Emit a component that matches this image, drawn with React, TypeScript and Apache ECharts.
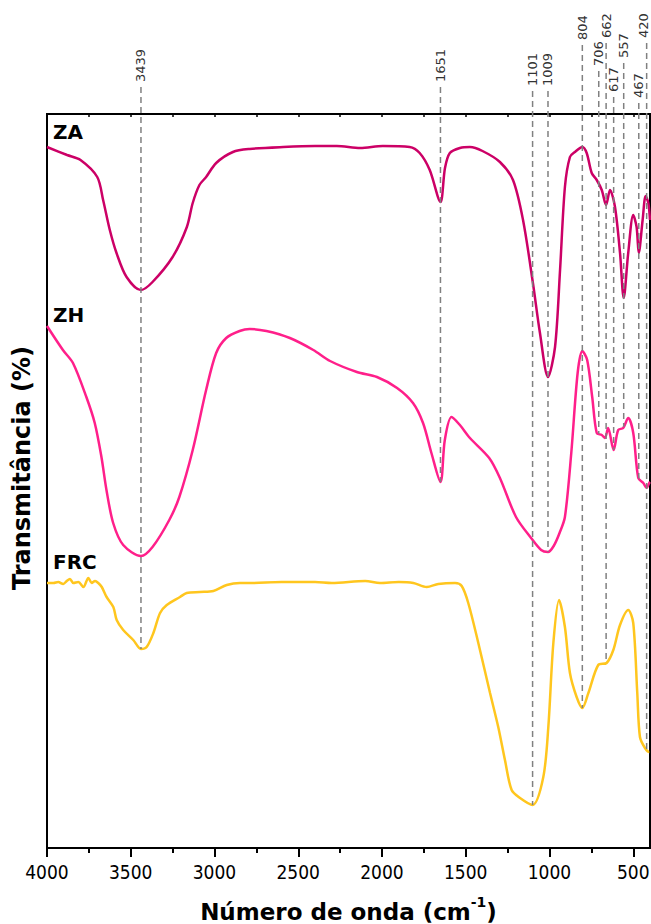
import React, { useEffect, useRef } from "react";
import * as echarts from "echarts";

// ---- Data (wavenumber cm-1, transmittance in arbitrary offset units) ----
const zaX = [4000, 3880, 3800, 3700, 3665, 3625, 3585, 3525, 3439, 3370, 3250, 3165, 3130, 3090, 3050, 2990, 2890, 2790, 2590, 2400, 2270, 2130, 1995, 1835, 1775, 1715, 1651, 1624, 1595, 1535, 1475, 1400, 1296, 1218, 1158, 1099, 1057, 1009, 967, 937, 908, 878, 848, 804, 778, 748, 718, 688, 662, 639, 609, 579, 557, 530, 500, 480, 467, 444, 426, 410, 400];
const zaY = [701, 693, 688, 671, 648, 618, 595, 571, 558, 566, 591, 621, 645, 663, 671, 685, 696, 699, 701, 702, 702, 700, 702, 701, 695, 678, 646, 680, 695, 700, 701, 697, 686, 668, 628, 565, 515, 471, 501, 578, 661, 691, 696, 701, 695, 675, 668, 658, 643, 658, 641, 595, 550, 595, 633, 621, 595, 628, 652, 645, 628];

const zhX = [4000, 3905, 3845, 3765, 3715, 3675, 3645, 3605, 3545, 3439, 3370, 3270, 3210, 3130, 3050, 2990, 2930, 2850, 2790, 2690, 2550, 2410, 2310, 2150, 2030, 1910, 1815, 1755, 1705, 1651, 1625, 1585, 1535, 1475, 1360, 1296, 1200, 1110, 1050, 1009, 975, 940, 908, 870, 832, 804, 775, 745, 718, 688, 669, 650, 617, 590, 560, 530, 500, 470, 440, 420, 405, 400];
const zhY = [522, 498, 485, 451, 425, 391, 358, 325, 303, 292, 301, 328, 351, 398, 458, 495, 510, 517, 519, 517, 510, 498, 487, 476, 471, 460, 445, 425, 395, 366, 408, 431, 423, 410, 390, 370, 331, 310, 298, 296, 302, 315, 331, 395, 475, 497, 488, 451, 415, 413, 410, 420, 398, 418, 420, 430, 415, 370, 365, 360, 365, 366];

const frcX = [4000, 3962, 3933, 3903, 3882, 3863, 3843, 3813, 3783, 3753, 3733, 3713, 3694, 3673, 3644, 3604, 3584, 3545, 3485, 3439, 3405, 3365, 3325, 3285, 3206, 3166, 3087, 3007, 2927, 2848, 2788, 2600, 2400, 2300, 2100, 2012, 1900, 1813, 1733, 1664, 1564, 1524, 1485, 1425, 1355, 1306, 1266, 1226, 1176, 1101, 1037, 1007, 977, 943, 908, 878, 838, 804, 768, 709, 659, 619, 579, 530, 500, 476, 460, 430, 404, 400];
const frcY = [265, 265, 266, 264, 267, 269, 265, 266, 261, 270, 265, 267, 265, 261, 251, 241, 228, 218, 208, 199, 201, 215, 235, 243, 251, 255, 256, 257, 263, 265, 265, 266, 266, 265, 267, 265, 266, 265, 261, 264, 265, 262, 245, 205, 155, 121, 88, 58, 50, 43, 71, 121, 205, 248, 221, 175, 151, 140, 155, 183, 185, 198, 223, 238, 225, 155, 111, 100, 96, 96];

const seriesNames = ["ZA", "ZH", "FRC"];

// Peak annotations and the spectrum each dashed line drops to
const peakX = [3439, 1651, 1101, 1009, 804, 706, 662, 617, 557, 467, 420];
const peakSeries = ["FRC", "ZH", "FRC", "ZH", "FRC", "ZH", "FRC", "ZH", "ZH", "ZH", "FRC"];

// Axis ticks
const majorTicks = [4000, 3500, 3000, 2500, 2000, 1500, 1000, 500];
const minorTicks = [3750, 3250, 2750, 2250, 1750, 1250, 750];
const topTicks = [3750, 3500, 3250, 3000, 2750, 2500, 2250, 2000, 1750, 1500, 1250, 1000, 750, 500];

// Layout (pixel) settings, not data
const labelBottomY = [82, 82, 86, 86, 40, 66, 38, 92, 58, 98, 38];
const labelDx = [0, 0, 0, 0, 0, 0, 0, 0, 0, 0, -3];
const seriesLabelY = [132, 315, 562];
const colors = ["#CC0066", "#FF1F8A", "#FFC61E"];

const FONT = "'DejaVu Sans', Verdana, sans-serif";
const TICK_FONT = "'DejaVu Sans Condensed', 'DejaVu Sans', Tahoma, sans-serif";

function zip(xs: number[], ys: number[]) {
  return xs.map((x, i) => [x, ys[i]]);
}

function interp(xs: number[], ys: number[], w: number) {
  for (let i = 0; i < xs.length - 1; i++) {
    const a = xs[i], b = xs[i + 1];
    if ((a >= w && w >= b) || (a <= w && w <= b)) {
      const t = a === b ? 0 : (w - a) / (b - a);
      return ys[i] + t * (ys[i + 1] - ys[i]);
    }
  }
  return ys[ys.length - 1];
}

export default function App() {
  const ref = useRef<HTMLDivElement>(null);

  useEffect(() => {
    const chart = echarts.init(ref.current!, null, { renderer: "svg" });
    const dataSets: Record<string, [number[], number[]]> = {
      ZA: [zaX, zaY],
      ZH: [zhX, zhY],
      FRC: [frcX, frcY],
    };

    const axisCommon = {
      type: "value" as const,
      min: 400,
      max: 4000,
      inverse: true,
      splitLine: { show: false },
      axisLine: { show: false },
    };

    chart.setOption({
      animation: false,
      backgroundColor: "#ffffff",
      grid: {
        left: 47,
        right: 1,
        top: 114,
        bottom: 76,
        show: true,
        containLabel: false,
        outerBoundsMode: "none",
        borderColor: "#000",
        borderWidth: 2,
        backgroundColor: "transparent",
      },
      xAxis: [
        {
          ...axisCommon,
          position: "bottom",
          axisTick: { show: true, length: 9, customValues: majorTicks, lineStyle: { color: "#000", width: 2 } },
          axisLabel: {
            show: true,
            customValues: majorTicks,
            formatter: (v: number) => String(v),
            margin: 14,
            fontSize: 19,
            color: "#000",
            fontFamily: TICK_FONT,
          },
          name: "{a|Número de onda (cm}{s|-1}{a|)}",
          nameLocation: "middle",
          nameGap: 47,
          nameTextStyle: {
            rich: {
              a: { fontSize: 23, fontWeight: "bold", fontFamily: FONT, color: "#000", lineHeight: 28, verticalAlign: "bottom" },
              s: { fontSize: 14, fontWeight: "bold", fontFamily: FONT, color: "#000", lineHeight: 28, verticalAlign: "top" },
            },
          },
        },
        {
          ...axisCommon,
          position: "bottom",
          axisTick: { show: true, length: 5, customValues: minorTicks, lineStyle: { color: "#000", width: 2 } },
          axisLabel: { show: false },
        },
        {
          ...axisCommon,
          position: "top",
          axisTick: { show: true, inside: true, length: 3, customValues: topTicks, lineStyle: { color: "#000", width: 1.5 } },
          axisLabel: { show: false },
        },
      ],
      yAxis: {
        type: "value",
        min: 0,
        max: 734,
        axisLine: { show: false },
        axisTick: { show: false },
        axisLabel: { show: false },
        splitLine: { show: false },
        name: "Transmitância (%)",
        nameLocation: "middle",
        nameGap: 13,
        nameRotate: 90,
        nameTextStyle: { fontSize: 24, fontWeight: "bold", fontFamily: FONT, color: "#000", padding: [0, 0, 0, 26] },
      },
      series: seriesNames.map((name, i) => ({
        name,
        type: "line",
        xAxisIndex: 0,
        data: zip(dataSets[name][0], dataSets[name][1]),
        showSymbol: false,
        smooth: 0.3,
        lineStyle: { color: colors[i], width: 2.5 },
        z: 3,
      })),
    });

    const px = (w: number) => chart.convertToPixel({ xAxisIndex: 0 }, w) as number;
    const py = (v: number) => chart.convertToPixel({ yAxisIndex: 0 }, v) as number;

    const graphics: any[] = [];
    peakX.forEach((w, i) => {
      const [xs, ys] = dataSets[peakSeries[i]];
      const x = px(w);
      const yEnd = py(interp(xs, ys, w));
      graphics.push({
        type: "line",
        shape: { x1: x, y1: labelBottomY[i] + 5, x2: x, y2: yEnd },
        style: { stroke: "#808080", lineWidth: 1.5, lineDash: [6, 4] },
        z: 10,
      });
      graphics.push({
        type: "text",
        x: x + labelDx[i],
        y: labelBottomY[i],
        rotation: Math.PI / 2,
        style: {
          text: String(w),
          fontSize: 13,
          fontFamily: FONT,
          fill: "#333",
          align: "left",
          verticalAlign: "middle",
        },
        z: 11,
      });
    });
    seriesNames.forEach((name, i) => {
      graphics.push({
        type: "text",
        x: 53,
        y: seriesLabelY[i],
        style: {
          text: name,
          fontSize: 20,
          fontWeight: "bold",
          fontFamily: FONT,
          fill: "#000",
          align: "left",
          verticalAlign: "middle",
        },
        z: 11,
      });
    });
    chart.setOption({ graphic: graphics });

    return () => chart.dispose();
  }, []);

  return (
    <div
      ref={ref}
      style={{ position: "absolute", left: 0, top: 0, width: 651, height: 924 }}
    />
  );
}
